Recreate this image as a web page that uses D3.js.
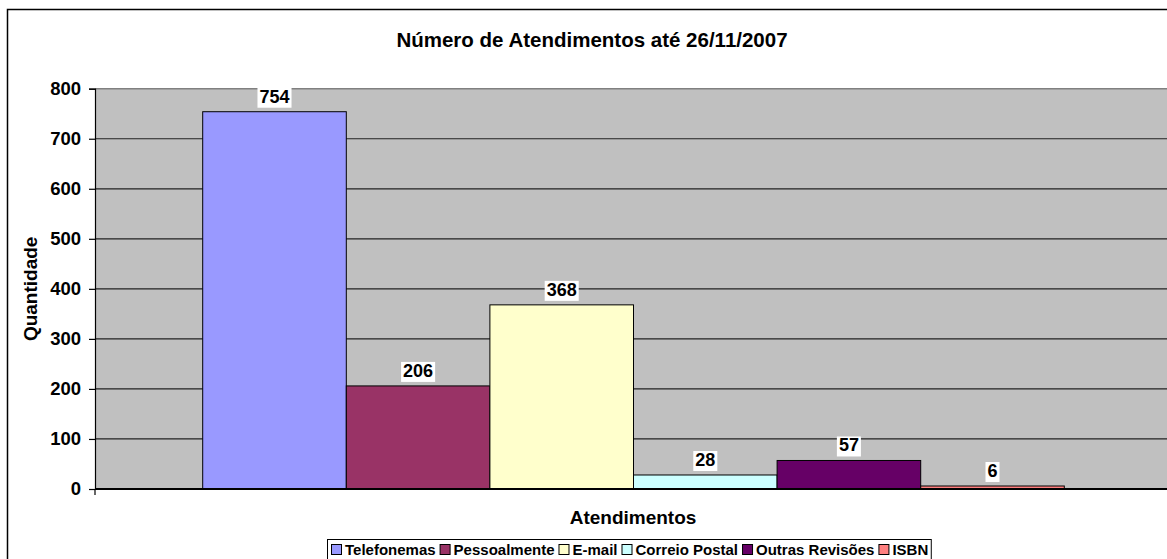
<!DOCTYPE html>
<html lang="pt">
<head>
  <meta charset="UTF-8" />
  <title>Número de Atendimentos até 26/11/2007</title>
  <script src="https://d3js.org/d3.v7.min.js"></script>
  <style>
    body { margin: 0; background: #fff; }
    svg { display: block; font-family: "Liberation Sans", Arial, sans-serif; font-weight: bold; }
  </style>
</head>
<body>
<svg width="1167" height="559"></svg>
<script>
  // dados
  const categorias = ["Telefonemas", "Pessoalmente", "E-mail", "Correio Postal", "Outras Revisões", "ISBN"];
  const valores = [754, 206, 368, 28, 57, 6];
  const cores = ["#9999FF", "#993366", "#FFFFCC", "#CCFFFF", "#660066", "#FF8080"];
  const ticksY = [0, 100, 200, 300, 400, 500, 600, 700, 800];

  const svg = d3.select("svg");
  const plot = { left: 95, right: 1172, top: 88.7, bottom: 489 };

  // moldura externa do gráfico (cortada à direita e em baixo)
  svg.append("rect")
    .attr("x", 7.5).attr("y", 9.5)
    .attr("width", 1172).attr("height", 570)
    .attr("fill", "#fff").attr("stroke", "#000").attr("stroke-width", 1.5);

  const y = d3.scaleLinear().domain([0, 800]).range([plot.bottom, plot.top]);

  // uma categoria só, barras agrupadas com gap de 150%
  const n = categorias.length;
  const slot = (plot.right - plot.left) / (n + 1.5);
  const x = d3.scaleBand().domain(categorias)
    .range([plot.left + slot * 0.75, plot.right - slot * 0.75]).padding(0);

  // área de plotagem
  svg.append("rect")
    .attr("x", plot.left).attr("y", plot.top)
    .attr("width", plot.right - plot.left).attr("height", plot.bottom - plot.top)
    .attr("fill", "#C0C0C0");

  // linhas de grade
  svg.append("g").selectAll("line")
    .data(ticksY.filter(d => d > 0 && d < 800))
    .join("line")
    .attr("x1", plot.left).attr("x2", plot.right)
    .attr("y1", d => y(d)).attr("y2", d => y(d))
    .attr("stroke", "#222").attr("stroke-width", 1.2);

  svg.append("line")
    .attr("x1", plot.left).attr("x2", plot.right)
    .attr("y1", plot.top).attr("y2", plot.top)
    .attr("stroke", "#808080").attr("stroke-width", 1.5);

  // barras
  svg.append("g").selectAll("rect")
    .data(valores)
    .join("rect")
    .attr("x", (d, i) => x(categorias[i]))
    .attr("y", d => y(d))
    .attr("width", x.bandwidth())
    .attr("height", d => plot.bottom - y(d))
    .attr("fill", (d, i) => cores[i])
    .attr("stroke", "#000").attr("stroke-width", 1);

  // eixo Y
  const eixoY = svg.append("g")
    .attr("transform", `translate(${plot.left},0)`)
    .call(d3.axisLeft(y).tickValues(ticksY).tickSize(6).tickPadding(8));
  eixoY.select(".domain").attr("stroke", "#000").attr("stroke-width", 1.2);
  eixoY.selectAll(".tick line").attr("stroke", "#000").attr("stroke-width", 1.2);
  eixoY.selectAll(".tick text")
    .attr("font-size", 18.5).attr("font-weight", "bold").attr("fill", "#000")
    .attr("font-family", "Liberation Sans, Arial, sans-serif");

  // eixo X
  svg.append("line")
    .attr("x1", plot.left).attr("x2", plot.right)
    .attr("y1", plot.bottom).attr("y2", plot.bottom)
    .attr("stroke", "#000").attr("stroke-width", 2);
  svg.append("line")
    .attr("x1", plot.left).attr("x2", plot.left)
    .attr("y1", plot.bottom).attr("y2", plot.bottom + 6)
    .attr("stroke", "#000").attr("stroke-width", 1.2);

  // rótulos de dados
  const rotulos = svg.append("g");
  valores.forEach((v, i) => {
    const cx = x(categorias[i]) + x.bandwidth() / 2;
    const g = rotulos.append("g");
    const t = g.append("text")
      .attr("x", cx).attr("y", y(v) - 9)
      .attr("text-anchor", "middle")
      .attr("font-size", 18)
      .text(v);
    const b = t.node().getBBox();
    g.insert("rect", "text")
      .attr("x", b.x - 2).attr("y", b.y + 1)
      .attr("width", b.width + 4).attr("height", b.height)
      .attr("fill", "#fff");
  });

  // títulos
  svg.append("text")
    .attr("x", 592).attr("y", 47)
    .attr("text-anchor", "middle").attr("font-size", 20.5)
    .text("Número de Atendimentos até 26/11/2007");

  svg.append("text")
    .attr("x", 633).attr("y", 524)
    .attr("text-anchor", "middle").attr("font-size", 19)
    .text("Atendimentos");

  svg.append("text")
    .attr("transform", `translate(37,${(plot.top + plot.bottom) / 2}) rotate(-90)`)
    .attr("text-anchor", "middle").attr("font-size", 19)
    .text("Quantidade");

  // legenda
  const leg = svg.append("g");
  const legBox = leg.append("rect")
    .attr("x", 327.5).attr("y", 539.5).attr("height", 30)
    .attr("fill", "#fff").attr("stroke", "#000").attr("stroke-width", 1);
  let lx = 331;
  categorias.forEach((c, i) => {
    leg.append("rect")
      .attr("x", lx + 0.5).attr("y", 544.5)
      .attr("width", 10).attr("height", 10)
      .attr("fill", cores[i]).attr("stroke", "#000").attr("stroke-width", 1);
    const t = leg.append("text")
      .attr("x", lx + 14).attr("y", 555)
      .attr("font-size", 15)
      .text(c);
    lx += 14 + t.node().getComputedTextLength() + 4;
  });
  legBox.attr("width", lx - 327.5 - 1);
</script>
</body>
</html>
